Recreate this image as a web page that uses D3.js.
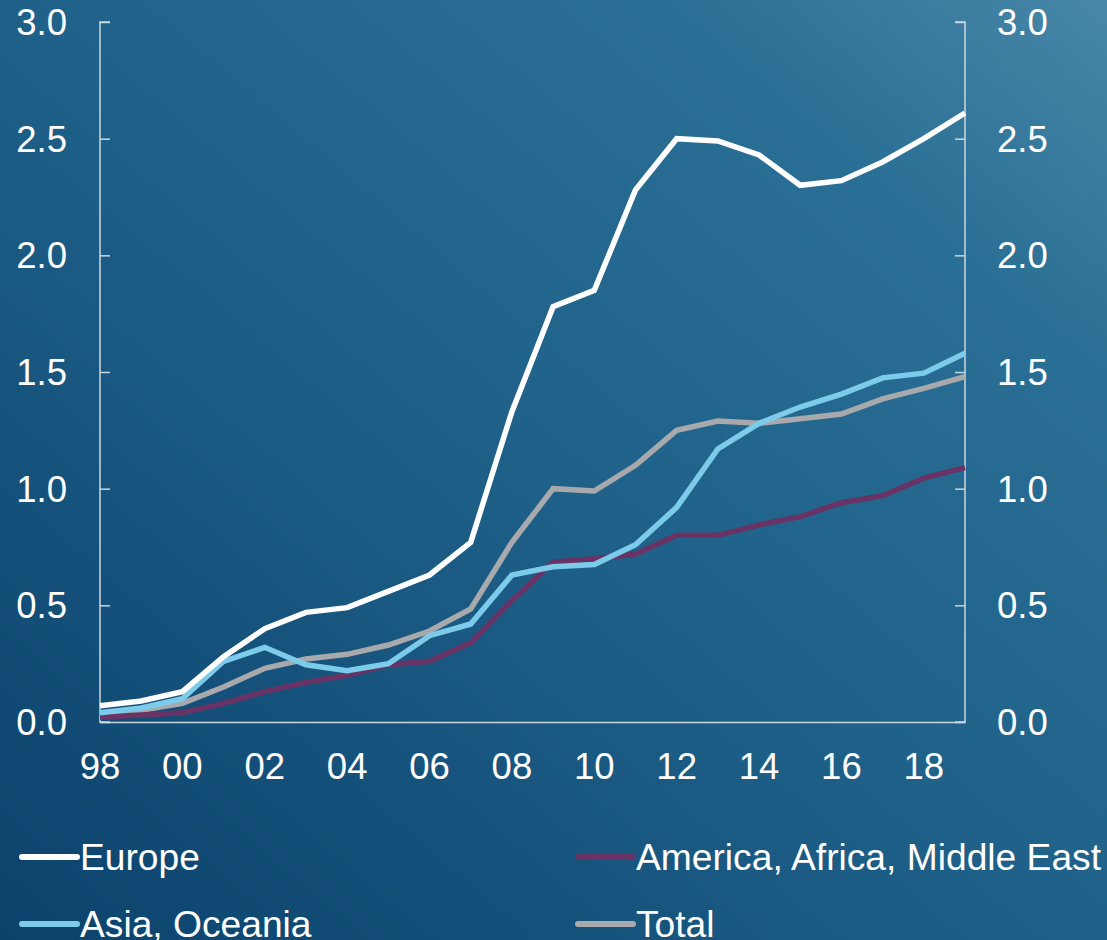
<!DOCTYPE html>
<html>
<head>
<meta charset="utf-8">
<script src="https://cdn.jsdelivr.net/npm/d3@7"></script>
<style>
  html, body { margin: 0; padding: 0; background: #1b5b84; }
  svg { display: block; }
  text { font-family: "Liberation Sans", Arial, sans-serif; fill: #ffffff; }
</style>
</head>
<body>
<svg id="chart" width="1107" height="940"></svg>
<script>
const years = [1998,1999,2000,2001,2002,2003,2004,2005,2006,2007,2008,2009,2010,2011,2012,2013,2014,2015,2016,2017,2018,2019];
const europe  = [0.07,0.09,0.13,0.28,0.40,0.47,0.49,0.56,0.63,0.77,1.33,1.78,1.85,2.28,2.50,2.49,2.43,2.30,2.32,2.40,2.50,2.61];
const america = [0.02,0.03,0.04,0.08,0.13,0.17,0.20,0.245,0.26,0.34,0.52,0.685,0.70,0.72,0.80,0.80,0.845,0.88,0.94,0.97,1.045,1.09];
const asia    = [0.04,0.06,0.10,0.26,0.32,0.245,0.22,0.25,0.37,0.42,0.63,0.665,0.675,0.76,0.92,1.17,1.28,1.35,1.405,1.475,1.495,1.58];
const total   = [0.03,0.05,0.08,0.15,0.23,0.27,0.29,0.33,0.39,0.485,0.77,1.00,0.99,1.10,1.25,1.29,1.28,1.30,1.32,1.385,1.43,1.48];
const xTickYears = [1998,2000,2002,2004,2006,2008,2010,2012,2014,2016,2018];
const yTicks = [0,0.5,1.0,1.5,2.0,2.5,3.0];

const seriesNames = ["Europe","America, Africa, Middle East","Asia, Oceania","Total"];
const seriesColors = ["#ffffff","#6a3366","#7ccbea","#a7a9ac"];
const seriesValues = [europe, america, asia, total];
const drawOrder = [3,1,2,0];

(function(){
const W = 1107, H = 940;
const mL = 100, mR = 965, mT = 22, mB = 722;

const svg = d3.select("#chart");
const defs = svg.append("defs");
const grad = defs.append("linearGradient").attr("id","bg")
  .attr("x1","0").attr("y1","1").attr("x2","1").attr("y2","0");
grad.append("stop").attr("offset","0%").attr("stop-color","#0b426c");
grad.append("stop").attr("offset","50%").attr("stop-color","#1f6189");
grad.append("stop").attr("offset","80%").attr("stop-color","#2a6f95");
grad.append("stop").attr("offset","100%").attr("stop-color","#4887a8");
svg.append("rect").attr("width",W).attr("height",H).attr("fill","url(#bg)");

const x = d3.scaleLinear().domain([1998,2019]).range([mL,mR]);
const y = d3.scaleLinear().domain([0,3]).range([mB,mT]);

const axisColor = "#c9d7e1";
const yl = svg.append("g").attr("transform",`translate(${mL},0)`)
  .call(d3.axisRight(y).tickValues(yTicks).tickSize(10).tickFormat(""));
yl.select(".domain").attr("d",`M10,${mT}H0V${mB}H10`).attr("stroke",axisColor).attr("stroke-width",1.5);
yl.selectAll(".tick line").attr("stroke",axisColor).attr("stroke-width",1.5);

const yr = svg.append("g").attr("transform",`translate(${mR},0)`)
  .call(d3.axisLeft(y).tickValues(yTicks).tickSize(10).tickFormat(""));
yr.select(".domain").attr("d",`M-10,${mT}H0V${mB}H-10`).attr("stroke",axisColor).attr("stroke-width",1.5);
yr.selectAll(".tick line").attr("stroke",axisColor).attr("stroke-width",1.5);

const xa = svg.append("g").attr("transform",`translate(0,${mB})`)
  .call(d3.axisBottom(x).tickValues(xTickYears).tickSize(0).tickFormat(""));
xa.select(".domain").attr("stroke",axisColor).attr("stroke-width",1.5);

const fmt = d3.format(".1f");
svg.append("g").selectAll("text").data(yTicks).join("text")
  .attr("x",67).attr("y",d=>y(d)+13).attr("text-anchor","end")
  .attr("font-size",36.5).text(fmt);
svg.append("g").selectAll("text").data(yTicks).join("text")
  .attr("x",997).attr("y",d=>y(d)+13).attr("text-anchor","start")
  .attr("font-size",36.5).text(fmt);

svg.append("g").selectAll("text").data(xTickYears).join("text")
  .attr("x",d=>x(d)).attr("y",779).attr("text-anchor","middle")
  .attr("font-size",36.5).text(d=>String(d%100).padStart(2,"0"));

const line = d3.line().x((d,i)=>x(years[i])).y(d=>y(d));
drawOrder.forEach(k=>{
  svg.append("path").datum(seriesValues[k])
    .attr("d",line).attr("fill","none")
    .attr("stroke",seriesColors[k]).attr("stroke-width",5.5)
    .attr("stroke-linejoin","miter");
});

const legPos = [[22,857],[578,857],[22,924],[578,924]];
seriesNames.forEach((n,i)=>{
  const [lx,ly] = legPos[i];
  svg.append("line").attr("x1",lx).attr("x2",lx+55).attr("y1",ly).attr("y2",ly)
    .attr("stroke",seriesColors[i]).attr("stroke-width",6).attr("stroke-linecap","round");
  svg.append("text").attr("x",lx+58).attr("y",ly+13).attr("font-size",37.2).text(n);
});
})();
</script>
</body>
</html>
